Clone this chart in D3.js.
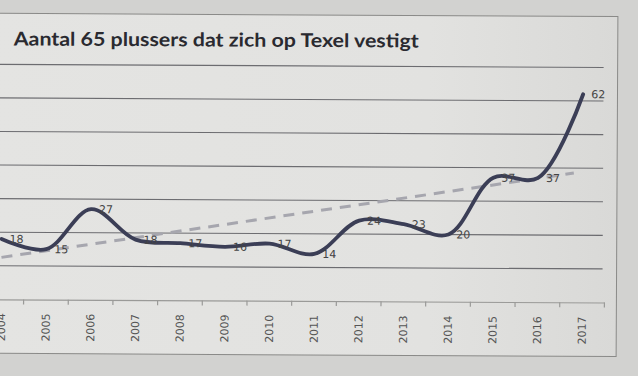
<!DOCTYPE html>
<html><head><meta charset="utf-8">
<script src="https://cdn.jsdelivr.net/npm/d3@7/dist/d3.min.js"></script>
<style>html,body{margin:0;padding:0;background:#d4d4d2;overflow:hidden}</style>
</head><body>
<svg id="c" width="638" height="376"></svg>
<script>
const title = "Aantal 65 plussers dat zich op Texel vestigt";
const years = ["2004","2005","2006","2007","2008","2009","2010","2011","2012","2013","2014","2015","2016","2017"];
const values = [18,15,27,18,17,16,17,14,24,23,20,37,37,62];
const gridTicks = [10,20,30,40,50,60,70];
const trendYears = [0, 12.8];     // index positions (2004 .. ~2016.8)
const trendValues = [12.5, 38.5];

const svg = d3.select("#c");
const defs = svg.append("defs");
const grad = defs.append("linearGradient").attr("id","bg").attr("x1",0).attr("x2",1).attr("y1",0).attr("y2",0);
grad.append("stop").attr("offset","0%").attr("stop-color","#e4e4e2");
grad.append("stop").attr("offset","70%").attr("stop-color","#e2e2e0");
grad.append("stop").attr("offset","100%").attr("stop-color","#d9d9d7");

svg.append("rect").attr("width",638).attr("height",376).attr("fill","#d2d2d0");

const g = svg.append("g").attr("transform","rotate(0.3 319 188)");

g.append("rect").attr("x",-10).attr("y",15).attr("width",627).attr("height",340)
  .attr("fill","url(#bg)").attr("stroke","#8a8a88").attr("stroke-width",1);

g.append("text").attr("x",13).attr("y",47).text(title)
  .attr("font-family","Lato, 'Open Sans', sans-serif").attr("font-weight","bold")
  .attr("font-size",19).attr("fill","#2a2a30")
  .attr("textLength",405).attr("lengthAdjust","spacingAndGlyphs");

const x = d3.scaleBand().domain(years).range([-20.5, 605]);
const y = d3.scaleLinear().domain([0,70]).range([301, 66]);
const xc = i => x(years[0]) + x.step()*i + x.bandwidth()/2;

// gridlines
g.append("g").selectAll("line").data(gridTicks).join("line")
  .attr("x1",-20).attr("x2",603).attr("y1",d=>y(d)).attr("y2",d=>y(d))
  .attr("stroke","#6c6c70").attr("stroke-width",1.1);

// x axis
const xAxis = d3.axisBottom(x).tickSize(0).tickPadding(10);
const ax = g.append("g").attr("transform",`translate(0,${y(0)})`).call(xAxis);
ax.select(".domain").attr("stroke","#9a9a98").attr("stroke-width",1.2);
ax.selectAll(".tick text")
  .attr("transform","rotate(-90)").attr("text-anchor","end")
  .attr("x",-14).attr("y",0).attr("dy","0.35em")
  .attr("font-family","'DejaVu Sans', sans-serif").attr("font-size",11).attr("fill","#555");
// boundary ticks
const bounds = d3.range(years.length+1).map(i => -20.5 + x.step()*i);
ax.append("g").selectAll("line").data(bounds).join("line")
  .attr("x1",d=>d).attr("x2",d=>d).attr("y1",0).attr("y2",5)
  .attr("stroke","#9a9a98").attr("stroke-width",1.2);

// trend line
g.append("path")
  .datum(trendYears.map((t,i)=>[xc(t), y(trendValues[i])]))
  .attr("d", d3.line())
  .attr("fill","none").attr("stroke","#a6a6ae").attr("stroke-width",3)
  .attr("stroke-dasharray","11,8");

// main line
g.append("path")
  .datum(values.map((v,i)=>[xc(i), y(v)]))
  .attr("d", d3.line().curve(d3.curveCatmullRom.alpha(0.5)))
  .attr("fill","none").attr("stroke","#3b3e56").attr("stroke-width",3.8)
  .attr("stroke-linecap","round");

// labels
g.append("g").selectAll("text").data(values).join("text")
  .attr("x",(d,i)=>xc(i)+8).attr("y",d=>y(d)+4)
  .text(d=>d)
  .attr("font-family","'DejaVu Sans', sans-serif").attr("font-size",11).attr("fill","#444");
</script>
</body></html>
